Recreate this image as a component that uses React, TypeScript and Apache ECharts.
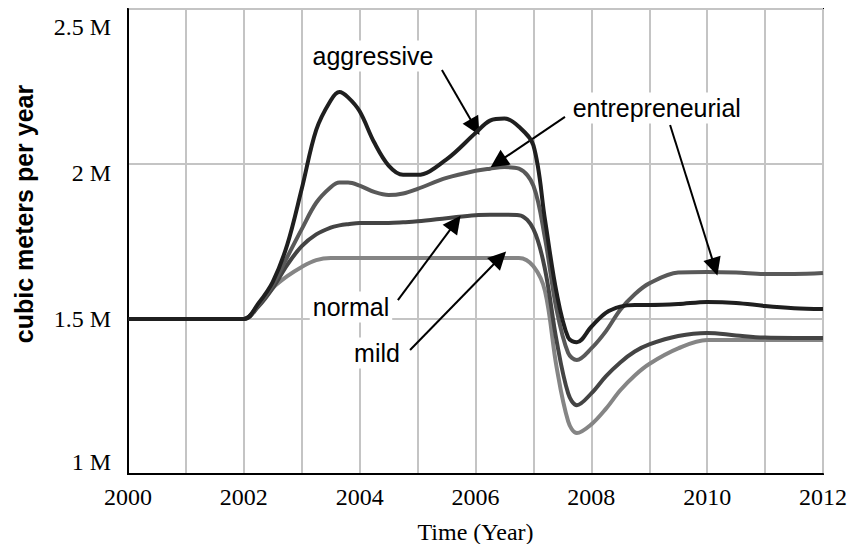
import React, { useEffect, useRef } from 'react';
import * as echarts from 'echarts';

const years = [2000, 2002, 2002.25, 2002.5, 2002.75, 2003, 2003.25, 2003.5, 2003.65, 2003.8, 2004, 2004.25, 2004.5, 2004.75, 2005, 2005.5, 2006, 2006.25, 2006.5, 2006.75, 2007, 2007.2, 2007.4, 2007.6, 2007.75, 2008, 2008.25, 2008.5, 2008.75, 2009, 2009.5, 2010, 2010.5, 2011, 2011.5, 2012];

const aggressive = [1.5, 1.5, 1.55, 1.62, 1.74, 1.92, 2.11, 2.205, 2.232, 2.215, 2.17, 2.07, 1.995, 1.965, 1.965, 2.015, 2.1, 2.14, 2.147, 2.12, 2.06, 1.82, 1.585, 1.44, 1.425, 1.475, 1.52, 1.54, 1.545, 1.545, 1.548, 1.555, 1.552, 1.542, 1.535, 1.532];
const entrepreneurial = [1.5, 1.5, 1.545, 1.61, 1.7, 1.79, 1.875, 1.925, 1.94, 1.94, 1.93, 1.91, 1.9, 1.905, 1.92, 1.955, 1.978, 1.985, 1.99, 1.985, 1.93, 1.76, 1.53, 1.39, 1.368, 1.405, 1.46, 1.53, 1.58, 1.615, 1.65, 1.652, 1.65, 1.645, 1.645, 1.648];
const normal = [1.5, 1.5, 1.54, 1.6, 1.675, 1.735, 1.773, 1.795, 1.802, 1.806, 1.81, 1.81, 1.81, 1.812, 1.815, 1.825, 1.835, 1.836, 1.836, 1.835, 1.79, 1.66, 1.43, 1.26, 1.222, 1.26, 1.315, 1.36, 1.395, 1.418, 1.445, 1.455, 1.447, 1.44, 1.439, 1.439];
const mild = [1.5, 1.5, 1.545, 1.6, 1.638, 1.668, 1.69, 1.697, 1.697, 1.697, 1.697, 1.697, 1.697, 1.697, 1.697, 1.697, 1.697, 1.697, 1.697, 1.697, 1.67, 1.59, 1.345, 1.17, 1.132, 1.16, 1.21, 1.27, 1.318, 1.355, 1.405, 1.432, 1.432, 1.432, 1.432, 1.432];

const yTicks = [1, 1.5, 2, 2.5];

const labelNotes = [
  { text: 'aggressive', at: [2004.23, 2.348] },
  { text: 'entrepreneurial', at: [2009.13, 2.181] },
  { text: 'normal', at: [2003.85, 1.539] },
  { text: 'mild', at: [2004.3, 1.39] },
];

const arrowNotes = [
  { from: [2005.42, 2.303], to: [2005.99, 2.119] },
  { from: [2007.545, 2.152], to: [2006.39, 2.006] },
  { from: [2009.36, 2.126], to: [2010.13, 1.668] },
  { from: [2004.66, 1.561], to: [2005.65, 1.81] },
  { from: [2004.87, 1.4], to: [2006.42, 1.697] },
];

const SERIF = '"Liberation Serif", "Times New Roman", serif';
const SANS = '"Liberation Sans", Arial, sans-serif';

export default function App() {
  const ref = useRef<HTMLDivElement>(null);
  useEffect(() => {
    const chart = echarts.init(ref.current!, null, { renderer: 'svg' });
    const mk = (vals: number[]) => years.map((x, i) => [x, vals[i]]);
    const lineSeries = (name: string, vals: number[], color: string, z: number, extra: any = {}) => ({
      name,
      type: 'line',
      data: mk(vals),
      showSymbol: false,
      smooth: 0.35,
      z,
      lineStyle: { width: 4, color },
      itemStyle: { color },
      emphasis: { disabled: true },
      silent: true,
      ...extra,
    });
    const yPad: Record<string, number[]> = {
      t0: [0, 0, 24, 0],
      t1: [0, 0, 0, 0],
      t2: [18, 0, 0, 0],
      t3: [36, 0, 0, 0],
    };
    const rich: any = {};
    Object.keys(yPad).forEach((k) => {
      rich[k] = { fontFamily: SERIF, fontSize: 24, color: '#000', padding: yPad[k] };
    });
    chart.setOption({
      animation: false,
      backgroundColor: '#fff',
      grid: {
        left: 128,
        right: 32,
        top: 9,
        bottom: 70,
        show: true,
        borderColor: '#000',
        borderWidth: 2,
        outerBoundsMode: 'none',
      },
      xAxis: {
        type: 'value',
        min: 2000,
        max: 2012,
        interval: 1,
        name: 'Time (Year)',
        nameLocation: 'middle',
        nameGap: 46,
        nameTextStyle: { fontFamily: SERIF, fontSize: 24, color: '#000' },
        axisLine: { show: true, lineStyle: { color: '#000', width: 2 } },
        axisTick: { show: false },
        axisLabel: {
          fontFamily: SERIF,
          fontSize: 24,
          color: '#000',
          margin: 11,
          formatter: (v: number) => (v % 2 === 0 ? String(v) : ''),
        },
        splitLine: { show: true, lineStyle: { color: '#c4c4c4', width: 2 } },
      },
      yAxis: {
        type: 'value',
        min: 1,
        max: 2.5,
        interval: 0.5,
        axisLine: { show: true, lineStyle: { color: '#000', width: 2 } },
        axisTick: { show: false },
        axisLabel: {
          fontFamily: SERIF,
          fontSize: 24,
          color: '#000',
          margin: 17,
          formatter: (v: number) => {
            const idx = yTicks.indexOf(v);
            return `{t${idx < 0 ? 1 : idx}|${v} M}`;
          },
          rich,
        },
        splitLine: { show: true, lineStyle: { color: '#c4c4c4', width: 2 } },
      },
      graphic: [
        {
          type: 'text',
          x: 24,
          y: 214,
          rotation: Math.PI / 2,
          style: {
            text: 'cubic meters per year',
            fontFamily: SANS,
            fontWeight: 'bold',
            fontSize: 25,
            fill: '#000',
            align: 'center',
            verticalAlign: 'middle',
          },
        },
      ],
      series: [
        lineSeries('mild', mild, '#858585', 2),
        lineSeries('normal', normal, '#444444', 3),
        lineSeries('entrepreneurial', entrepreneurial, '#595959', 4),
        lineSeries('aggressive', aggressive, '#1f1f1f', 5, {
          markLine: {
            silent: true,
            symbol: ['none', 'triangle'],
            symbolSize: 18,
            label: { show: false },
            lineStyle: { color: '#000', width: 2, type: 'solid' },
            emphasis: { disabled: true },
            data: arrowNotes.map((a) => [{ coord: a.from }, { coord: a.to }]),
          },
          markPoint: {
            silent: true,
            symbol: 'rect',
            symbolSize: 1,
            itemStyle: { color: 'rgba(0,0,0,0)' },
            label: {
              show: true,
              position: 'inside',
              formatter: '{b}',
              fontFamily: SANS,
              fontSize: 25,
              color: '#000',
              backgroundColor: '#fff',
              padding: [3, 3],
            },
            data: labelNotes.map((l) => ({ name: l.text, coord: l.at })),
          },
        }),
      ],
    });
    return () => chart.dispose();
  }, []);
  return (
    <div
      ref={ref}
      style={{ position: 'fixed', left: 0, top: 0, width: 855, height: 544, background: '#fff' }}
    />
  );
}
